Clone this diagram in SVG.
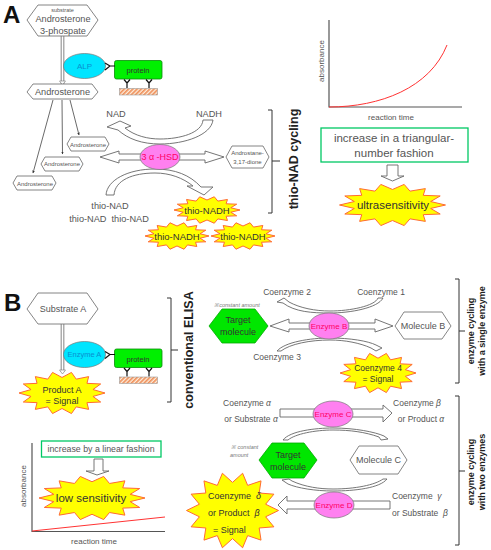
<svg xmlns="http://www.w3.org/2000/svg" width="491" height="550" viewBox="0 0 491 550">
<style>
text{font-family:"Liberation Sans",Arial,sans-serif;fill:#555;text-anchor:middle}
.hex{fill:#fff;stroke:#777;stroke-width:.9}
.tgt{fill:#00e600;stroke:#0a0;stroke-width:.8}
.hol{fill:#fff;stroke:#666;stroke-width:.9;stroke-linejoin:miter}
.star{fill:#ff0;stroke:#ff6a33;stroke-width:1;vector-effect:non-scaling-stroke}
.enz{fill:#ff80f0;stroke:#777;stroke-width:.7}
.cy{fill:#00e5ff;stroke:#777;stroke-width:.7}
.ax{fill:none;stroke:#555;stroke-width:1.2}
.red{fill:none;stroke:#f33;stroke-width:1}
.br{fill:none;stroke:#333;stroke-width:1}
.thin{fill:none;stroke:#444;stroke-width:.8;marker-end:url(#ah)}
.dbo{stroke:#777;stroke-width:3.6}
.dbi{stroke:#fff;stroke-width:1.8}
.box{fill:#fff;stroke:#00c864;stroke-width:1.3}
.et{fill:#f06;font-size:8px}
.bt{fill:#0a8fd0;font-size:8px}
.d{fill:#333}
.lab{fill:#111;font-weight:bold;font-size:24px;text-anchor:start}
.v{fill:#222;font-weight:bold;font-size:12.5px}
.v2{fill:#222;font-weight:bold;font-size:9px}
.s{font-size:8.5px}
.m{font-size:9.2px}
.st{text-anchor:start}
.n{font-style:italic;font-size:5.5px;fill:#777}
</style>
<defs>
<marker id="ah" markerWidth="4" markerHeight="4" refX="3" refY="2" orient="auto"><path d="M0,0.4L3.4,2L0,3.6Z" fill="#333"/></marker>
<pattern id="hatch" width="3" height="3" patternUnits="userSpaceOnUse" patternTransform="rotate(-45)"><rect width="3" height="3" fill="#fdf0e0"/><rect width="3" height="1.7" fill="#f0905a"/></pattern>
<polygon id="st" class="star" points="100,0 72,16.500 90,43 58,46 62,78 33,66 22,98 0,74 -22,98 -33,66 -62,78 -58,46 -90,43 -72,16.500 -100,0 -72,-16.500 -90,-43 -58,-46 -62,-78 -33,-66 -22,-98 0,-74 22,-98 33,-66 62,-78 58,-46 90,-43 72,-16.500"/>
<g id="prot">
<rect x="114.500" y="60.500" width="47.500" height="18.500" rx="2" fill="#00f000" stroke="#0a8a0a" stroke-width=".8"/>
<path d="M115,66H110M110,66L105,63M110,66L105,70M127,88V83M127,83L124,79.500M127,83L130,79.500M149,88V83M149,83L146,79.500M149,83L152,79.500" fill="none" stroke="#111" stroke-width="1.200"/>
<rect x="119.500" y="88.500" width="38" height="6.500" fill="url(#hatch)" stroke="#999" stroke-width=".6"/>
</g>
</defs>

<text class="lab" x="3" y="23">A</text>
<text class="lab" x="4" y="311">B</text>

<g id="connectors">
<line class="dbo" x1="62.500" y1="36" x2="62.500" y2="84"/><line class="dbi" x1="62.500" y1="36" x2="62.500" y2="84"/>
<path d="M59.500,81H65.500L62.500,85Z" fill="#fff" stroke="#777" stroke-width=".6"/>
<path class="thin" d="M53,100L33,173"/>
<path class="thin" d="M62,100L62.500,154"/>
<path class="thin" d="M70,100L79,135"/>
<path class="hol" d="M213,120C211,135 185,144 160,144C142,144 128,139 118,130L107,127L120,121L131,126L125,128C135,136 148,139 160,139C180,139 202,133 203,120Z"/>
<path class="hol" d="M100,157L119,151V154H205V151L224,157L205,163V160H119V163Z"/>
<path class="hol" d="M106,195C107,180 128,169 155,169C175,169 190,175 201,187L213,187L204,195L187,186L193,186C183,178 170,173 155,173C133,173 115,180 114,195Z"/>
<path class="hol" d="M387,165H398V176H404L392.500,181L381,176H387Z"/>
<line class="dbo" x1="62.500" y1="324" x2="62.500" y2="372"/><line class="dbi" x1="62.500" y1="324" x2="62.500" y2="372"/>
<path d="M59.500,370H65.500L62.500,374Z" fill="#fff" stroke="#777" stroke-width=".6"/>
<path class="hol" d="M94,459H103V471H109L97,475L86,471H94Z"/>
<path class="hol" d="M383,298C378,308 350,313 330,313C312,313 295,312 283,303L277,302L284,298L289,302C300,308 315,311 330,311C350,311 375,306 378,298Z"/>
<path class="hol" d="M270,326L289,319V323H375V319L393,326L375,332V329H289V332Z"/>
<path class="hol" d="M277,351C285,342 310,338 330,338C350,338 368,341 376,345L382,348L376,351L371,348C360,343 345,340 330,340C310,340 290,344 281,351Z"/>
<path class="hol" d="M280,409H383V405L392,413L383,422V417H280Z"/>
<path class="hol" d="M283,440C290,431 315,428 333,428C355,428 375,432 384,436L388,439L381,440L379,437C365,432 350,430 333,430C315,430 295,434 288,440Z"/>
<path class="hol" d="M387,479C380,488 355,491 333,491C315,491 297,488 288,484L282,480L289,479L292,481C305,487 320,489 333,489C355,489 375,485 383,479Z"/>
<path class="hol" d="M278,505L287,496V501H390V509H287V514Z"/>
</g>

<g id="n-substrate"><polygon class="hex" points="27,20 38,5 87,5 98,20 87,36 38,36"/><text x="62.500" y="12" font-size="5.500">substrate</text><text class="m" x="63" y="22">Androsterone</text><text class="m" x="63" y="34">3-phospate</text></g>
<g id="n-androsterone"><polygon class="hex" points="27,92 33,84 92,84 98,92 92,99 33,99"/><text class="m" x="62.500" y="95">Androsterone</text></g>
<g id="n-alp"><ellipse class="cy" cx="84.500" cy="66" rx="21" ry="12.500"/><text class="bt" x="84.500" y="69" font-size="8.500">ALP</text></g>
<g id="n-protein-a"><use href="#prot"/><text class="d" x="138" y="73" font-size="7.500">protein</text></g>
<g id="n-an1"><polygon class="hex" points="67,144 71,137 105,137 109,144 105,151 71,151"/><text x="88" y="146.500" font-size="6">Androsterone</text></g>
<g id="n-an2"><polygon class="hex" points="41,164 45,157 79,157 83,164 79,171 45,171"/><text x="62" y="166" font-size="6">Androsterone</text></g>
<g id="n-an3"><polygon class="hex" points="13,183 17,176 52,176 56,183 52,190 17,190"/><text x="35" y="185.500" font-size="6">Androsterone</text></g>
<g id="n-hsd"><ellipse class="enz" cx="160" cy="157" rx="20" ry="12.500"/><text class="et" x="160" y="160" style="font-size:9px">3 α -HSD</text></g>
<g id="n-dione"><polygon class="hex" points="226,157 232,146 263,146 269,157 263,168 232,168"/><text x="247.500" y="155" font-size="6">Androstane-</text><text x="247.500" y="164" font-size="6">3,17-dione</text></g>
<g id="n-cof-a"><text class="m" x="116" y="117">NAD</text><text class="m" x="209" y="117">NADH</text><text class="m" x="110" y="209">thio-NAD</text><text class="m" x="109" y="222">thio-NAD&#160;&#160;thio-NAD</text></g>
<g id="n-thio1"><use href="#st" transform="translate(207,210) scale(.33,.135)"/><text class="d" x="207" y="214" font-size="9.500">thio-NADH</text></g>
<g id="n-thio2"><use href="#st" transform="translate(177,236) scale(.32,.135)"/><text class="d" x="177" y="240" font-size="9.500">thio-NADH</text></g>
<g id="n-thio3"><use href="#st" transform="translate(243,236) scale(.32,.135)"/><text class="d" x="243" y="240" font-size="9.500">thio-NADH</text></g>
<g id="br-a"><path class="br" d="M268,110H272V213H268M272,161H280"/><text class="v" transform="translate(298,159) rotate(-90)">thio-NAD cycling</text></g>
<g id="chart-a"><path class="ax" d="M329,20V107H462"/><path class="red" d="M329,107C380,107 430,88 447,45"/><text transform="translate(324,61) rotate(-90)" font-size="8">absorbance</text><text x="391" y="120" font-size="8">reaction time</text></g>
<g id="n-tri"><rect class="box" x="321" y="128" width="147" height="34"/><text x="394" y="142" font-size="11.500">increase in a triangular-</text><text x="394" y="157" font-size="11.500">number fashion</text></g>
<g id="n-ultra"><use href="#st" transform="translate(392.500,205) scale(.53,.21)"/><text class="d" x="393" y="209" font-size="11.500">ultrasensitivity</text></g>

<g id="n-subA"><polygon class="hex" points="27,309 38,293 87,293 98,309 87,324 38,324"/><text x="63" y="312" font-size="9">Substrate A</text></g>
<g id="n-enzA"><ellipse class="cy" cx="84.500" cy="354.500" rx="21" ry="13"/><text class="bt" x="84.500" y="357" style="font-size:7.500px">Enzyme A</text></g>
<g id="n-protein-b"><use href="#prot" transform="translate(0,288.500)"/><text class="d" x="138" y="361.500" font-size="7.500">protein</text></g>
<g id="n-prodA"><use href="#st" transform="translate(62,393) scale(.43,.21)"/><text class="d" x="62" y="393" font-size="9">Product A</text><text class="d" x="62" y="404" font-size="9">= Signal</text></g>
<g id="br-b1"><path class="br" d="M167,298H171V402H167M171,350H178"/><text class="v" transform="translate(193,350) rotate(-90)">conventional ELISA</text></g>
<g id="chart-b"><path class="ax" d="M32,443V531.500H165"/><path class="red" d="M32,531L165,517"/><text transform="translate(26,486) rotate(-90)" font-size="8">absorbance</text><text x="94" y="544" font-size="8">reaction time</text></g>
<g id="n-lin"><rect class="box" x="41.500" y="441" width="119.500" height="16"/><text x="101" y="452" font-size="8.800">increase by a linear fashion</text></g>
<g id="n-low"><use href="#st" transform="translate(92,498) scale(.53,.22)"/><text class="d" x="91" y="502" font-size="11.500">low sensitivity</text></g>

<g id="n-tgt1"><text class="n" x="237" y="307">※constant amount</text><polygon class="tgt" points="209,326 222,309 255,309 268,326 255,343 222,343"/><text class="d" x="238" y="323" font-size="9">Target</text><text class="d" x="238" y="335" font-size="9">molecule</text></g>
<g id="n-enzB"><ellipse class="enz" cx="329" cy="326" rx="20" ry="13"/><text class="et" x="329" y="329">Enzyme B</text></g>
<g id="n-molB"><polygon class="hex" points="395,326 404,312 442,312 451,326 442,339 404,339"/><text x="423" y="329" font-size="9">Molecule B</text></g>
<g id="n-cof-b"><text class="s" x="287" y="295">Coenzyme 2</text><text class="s" x="381" y="295">Coenzyme 1</text><text class="s" x="277" y="360">Coenzyme 3</text></g>
<g id="n-co4"><use href="#st" transform="translate(378,373) scale(.38,.2)"/><text class="d" x="378" y="371" font-size="8.500">Coenzyme 4</text><text class="d" x="378" y="382" font-size="8.500">= Signal</text></g>
<g id="br-b2"><path class="br" d="M455,279H459V383H455M459,331H465"/><text class="v2" transform="translate(474,331) rotate(-90)">enzyme cycling</text><text class="v2" transform="translate(485,331) rotate(-90)">with a single enzyme</text></g>

<g id="n-cof-c"><text class="s" x="247" y="406">Coenzyme <tspan font-style="italic">α</tspan></text><text class="s" x="251" y="422">or Substrate <tspan font-style="italic">α</tspan></text><text class="s" x="417" y="406">Coenzyme <tspan font-style="italic">β</tspan></text><text class="s" x="421" y="422">or Product <tspan font-style="italic">α</tspan></text><text class="s st" x="392" y="499">Coenzyme&#160;&#160;<tspan font-style="italic">γ</tspan></text><text class="s st" x="392" y="516">or Substrate&#160;&#160;<tspan font-style="italic">β</tspan></text></g>
<g id="n-enzC"><ellipse class="enz" cx="333" cy="414" rx="20" ry="13"/><text class="et" x="333" y="417">Enzyme C</text></g>
<g id="n-tgt2"><text class="n st" x="231" y="449">※ constant</text><text class="n st" x="230" y="457">amount</text><polygon class="tgt" points="259,460 272,443 304,443 317,460 304,478 272,478"/><text class="d" x="288" y="458" font-size="9">Target</text><text class="d" x="288" y="470" font-size="9">molecule</text></g>
<g id="n-molC"><polygon class="hex" points="350,460 359,446 398,446 407,460 398,474 359,474"/><text x="378.500" y="463" font-size="9">Molecule C</text></g>
<g id="n-enzD"><ellipse class="enz" cx="334" cy="505" rx="20" ry="13"/><text class="et" x="334" y="508">Enzyme D</text></g>
<g id="n-sig"><use href="#st" transform="translate(232.500,510.500) scale(.46,.38)"/><text class="d st" x="208" y="499" font-size="9">Coenzyme&#160;&#160;<tspan font-style="italic">δ</tspan></text><text class="d st" x="208" y="516" font-size="9">or Product&#160;&#160;<tspan font-style="italic">β</tspan></text><text class="d st" x="213" y="533" font-size="9">= Signal</text></g>
<g id="br-b3"><path class="br" d="M455,396H459V545H455M459,471H465"/><text class="v2" transform="translate(474,472) rotate(-90)">enzyme cycling</text><text class="v2" transform="translate(485,472) rotate(-90)">with two enzymes</text></g>
</svg>
